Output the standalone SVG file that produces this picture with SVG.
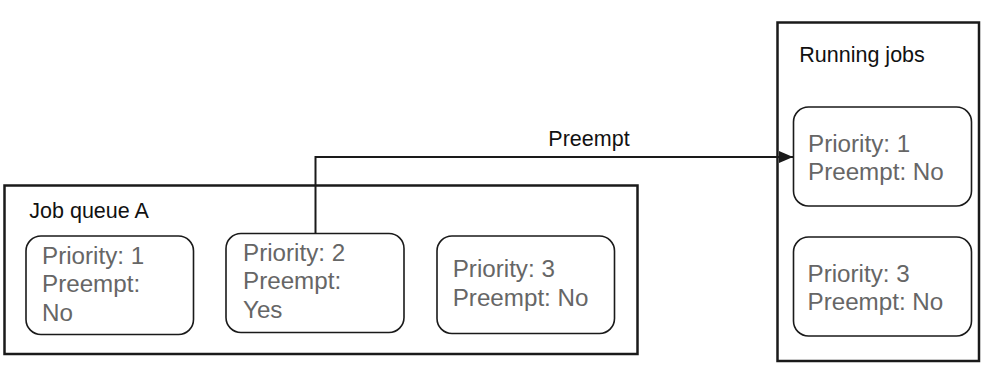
<svg xmlns="http://www.w3.org/2000/svg" width="985" height="381" viewBox="0 0 985 381">
<defs>
<style>
.outer{fill:#fff;stroke:#1a1a1a;stroke-width:2.5}
.job{fill:#fff;stroke:#1a1a1a;stroke-width:1.6}
.lbl{font-family:"Liberation Sans",Arial,sans-serif;font-size:21.5px;fill:#111}
.gt{font-family:"Liberation Sans",Arial,sans-serif;font-size:24.2px;fill:#666}
.conn{fill:none;stroke:#1a1a1a;stroke-width:2}
</style>
<marker id="arr" markerUnits="userSpaceOnUse" markerWidth="16" markerHeight="14" refX="14" refY="6" orient="auto">
<path d="M0,0 L14,6 L0,12 Z" fill="#1a1a1a"/>
</marker>
</defs>
<rect width="985" height="381" fill="#fff"/>
<g id="queueA">
<rect class="outer" x="4.5" y="185.5" width="633" height="168.5"/>
<text class="lbl" x="29.3" y="217.7">Job queue A</text>
</g>
<g id="runningJobs">
<rect class="outer" x="777.5" y="22.5" width="201.5" height="338.5"/>
<text class="lbl" x="799.3" y="61.7">Running jobs</text>
</g>
<g id="q1">
<rect class="job" x="26" y="236" width="167.5" height="98.5" rx="15"/>
<text class="gt" x="42"><tspan x="42" y="263.5">Priority: 1</tspan><tspan x="42" y="292">Preempt:</tspan><tspan x="42" y="320.5">No</tspan></text>
</g>
<g id="q2">
<rect class="job" x="226" y="233.5" width="178" height="99" rx="15"/>
<text class="gt" x="243"><tspan x="243" y="260.5">Priority: 2</tspan><tspan x="243" y="289">Preempt:</tspan><tspan x="243" y="317.5">Yes</tspan></text>
</g>
<g id="q3">
<rect class="job" x="437" y="236" width="177.5" height="97.5" rx="15"/>
<text class="gt" x="452.7"><tspan x="452.7" y="277">Priority: 3</tspan><tspan x="452.7" y="305.5">Preempt: No</tspan></text>
</g>
<g id="r1">
<rect class="job" x="793.5" y="107" width="178" height="99" rx="15"/>
<text class="gt" x="808"><tspan x="808" y="151.7">Priority: 1</tspan><tspan x="808" y="180.2">Preempt: No</tspan></text>
</g>
<g id="r2">
<rect class="job" x="793.5" y="237" width="178" height="99" rx="15"/>
<text class="gt" x="807.5"><tspan x="807.5" y="281.5">Priority: 3</tspan><tspan x="807.5" y="310">Preempt: No</tspan></text>
</g>
<g id="connectors">
<path class="conn" d="M315.5,233.5 V157 H793" marker-end="url(#arr)"/>
<text class="lbl" x="589" y="145.7" text-anchor="middle">Preempt</text>
</g>
</svg>
